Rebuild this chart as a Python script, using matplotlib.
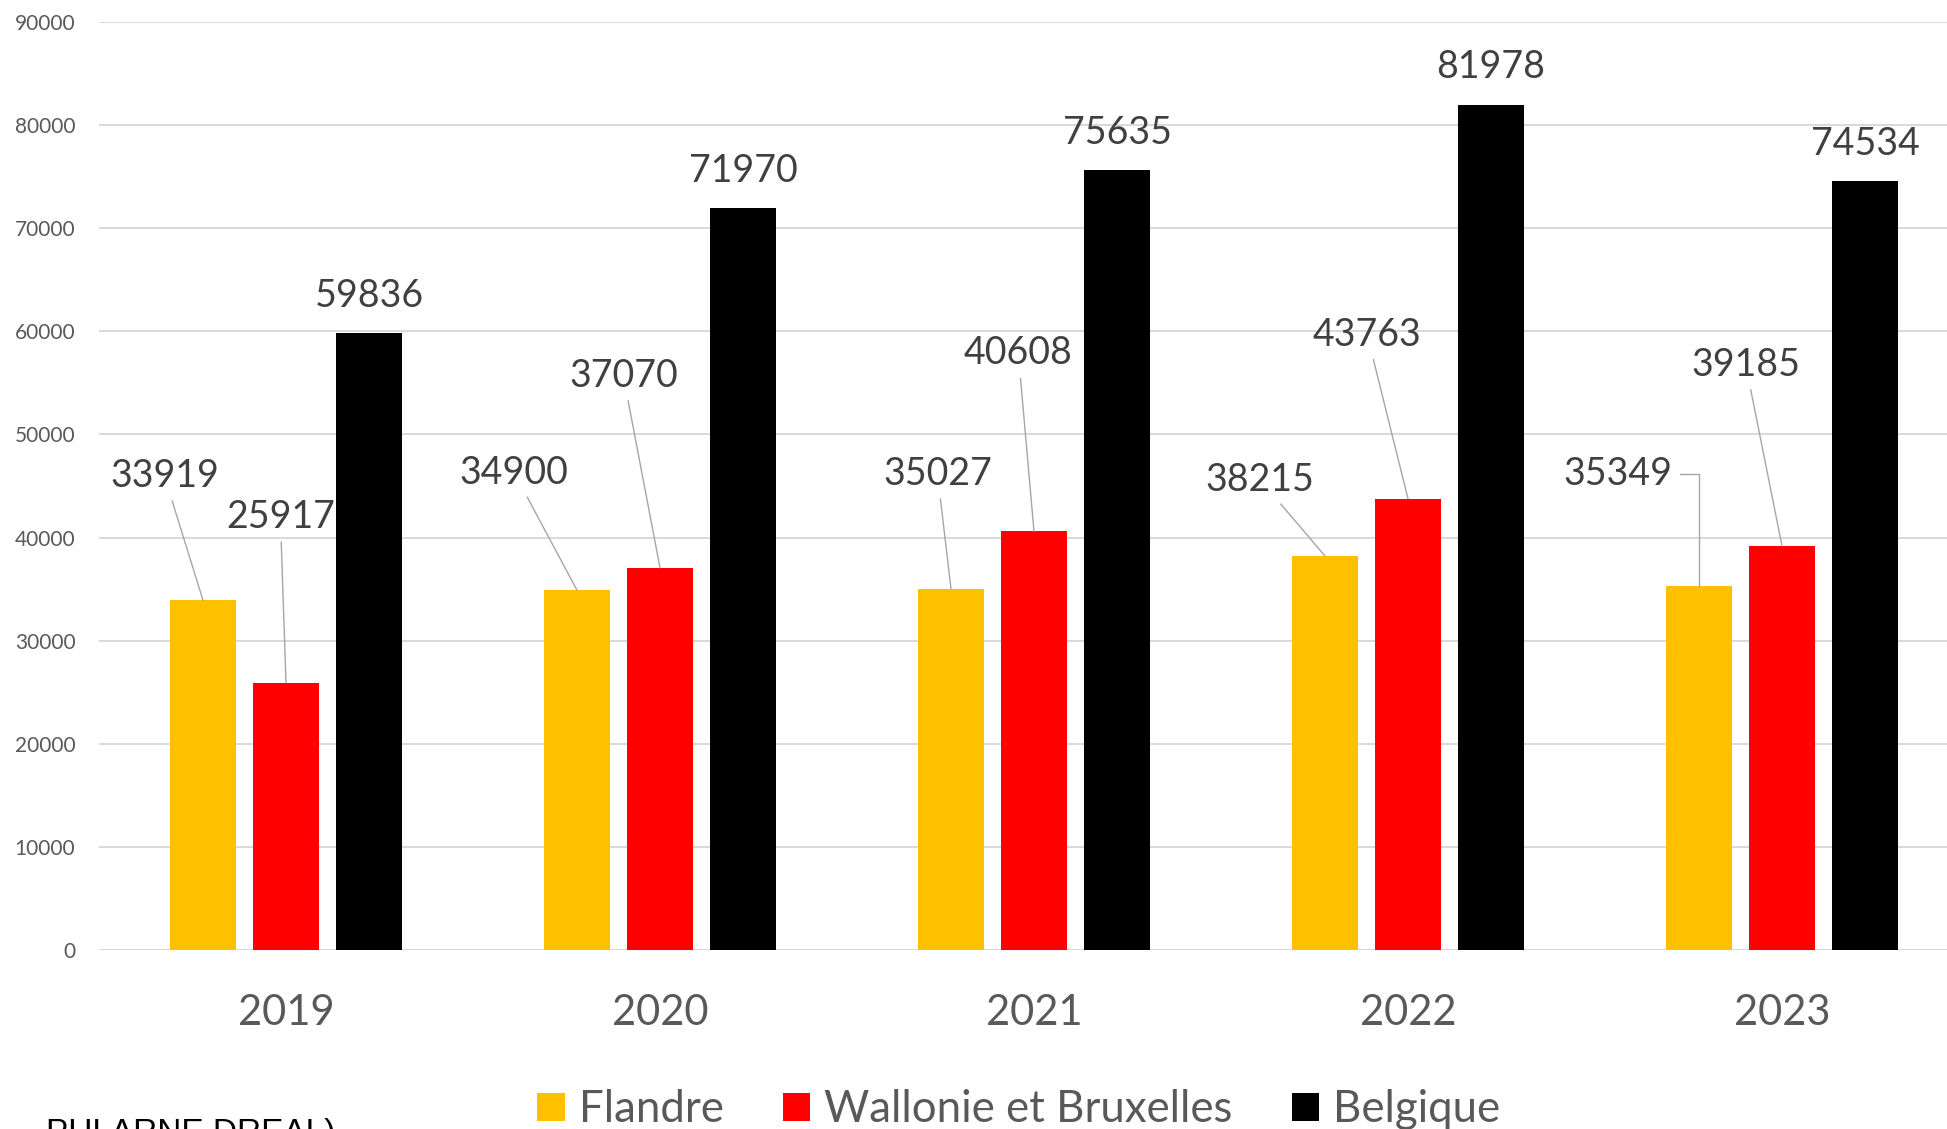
#!/usr/bin/env python3
"""
Flandre / Wallonie et Bruxelles / Belgique, 2019-2023
Histogramme groupé avec étiquettes de données
"""

import matplotlib
matplotlib.use('Agg')
import matplotlib.pyplot as plt
from matplotlib.patches import Patch
import numpy as np

plt.rcParams['font.family'] = ['Lato', 'DejaVu Sans']

# Données
years = ['2019', '2020', '2021', '2022', '2023']
flandre = [33919, 34900, 35027, 38215, 35349]
wallonie = [25917, 37070, 40608, 43763, 39185]
belgique = [59836, 71970, 75635, 81978, 74534]

series_names = ['Flandre', 'Wallonie et Bruxelles', 'Belgique']
series_colors = ['#FFC000', '#FF0000', '#000000']

# Placement des étiquettes (décalage horizontal en catégories, ligne de base en unités y)
flandre_label_dx = [-0.103, -0.168, -0.036, -0.173, -0.216]
flandre_label_y = [44900, 45230, 45110, 44510, 45100]
wallonie_label_dx = [-0.015, -0.098, -0.042, -0.109, -0.097]
wallonie_label_y = [40930, 54620, 56790, 58600, 55700]

W, H, DPI = 1947, 1129, 100
fig = plt.figure(figsize=(W / DPI, H / DPI), dpi=DPI)
fig.patch.set_facecolor('white')

# axe : gauche 99 px, bas 950 px, largeur 1870 px (coupé à droite), haut 22 px
ax = fig.add_axes([99 / W, (H - 950) / H, 1870 / W, 928 / H])

x = np.arange(len(years))
step = 0.222
width = 0.174
all_series = [flandre, wallonie, belgique]
for k, (vals, col) in enumerate(zip(all_series, series_colors)):
    ax.bar(x + (k - 1) * step, vals, width=width, color=col, zorder=3)

ax.set_xlim(-0.5, len(years) - 0.5)
ax.set_ylim(0, 90000)
ax.set_yticks(np.arange(0, 90001, 10000))
ax.set_yticklabels([str(v) for v in range(0, 90001, 10000)])
ax.set_xticks(x)
ax.set_xticklabels(years)

ax.grid(axis='y', color='#D9D9D9', linewidth=1.4, zorder=0)
ax.set_axisbelow(True)
for s in ax.spines.values():
    s.set_visible(False)
ax.tick_params(axis='y', length=0, pad=17, labelsize=15, labelcolor='#595959')
ax.tick_params(axis='x', length=0, pad=32, labelsize=30, labelcolor='#595959')

label_kw = dict(fontsize=27, color='#404040', ha='center', va='baseline')
line_kw = dict(arrowstyle='-', color='#A6A6A6', lw=1.0, shrinkA=3, shrinkB=0)

# étiquettes Flandre et Wallonie avec lignes de repère
for i in range(len(years)):
    bx = x[i] - step
    conn = 'angle,angleA=0,angleB=90,rad=0' if i == 4 else 'arc3'
    ax.annotate(str(flandre[i]), xy=(bx, flandre[i]),
                xytext=(bx + flandre_label_dx[i], flandre_label_y[i]),
                textcoords='data',
                arrowprops=dict(connectionstyle=conn, **line_kw), **label_kw)
    bx = x[i]
    ax.annotate(str(wallonie[i]), xy=(bx, wallonie[i]),
                xytext=(bx + wallonie_label_dx[i], wallonie_label_y[i]),
                textcoords='data',
                arrowprops=dict(line_kw), **label_kw)
    bx = x[i] + step
    ax.annotate(str(belgique[i]), xy=(bx, belgique[i]),
                xytext=(0, 19), textcoords='offset points', **label_kw)

# légende
handles = [Patch(facecolor=c, edgecolor='none') for c in series_colors]
leg = fig.legend(handles, series_names, loc='center',
                 bbox_to_anchor=(1019 / W, 1 - 1110 / H), ncol=3, frameon=False,
                 fontsize=31.5, handlelength=0.62, handleheight=0.62,
                 handletextpad=0.33, columnspacing=1.35)
for t in leg.get_texts():
    t.set_color('#595959')

# légende de source coupée en bas
fig.text(335 / W, 1 - 1118 / H, 'PULARNE DREAL)', ha='right', va='top',
         fontsize=24, color='black', family=['Liberation Sans', 'DejaVu Sans'])

fig.savefig('out.png', dpi=DPI)
